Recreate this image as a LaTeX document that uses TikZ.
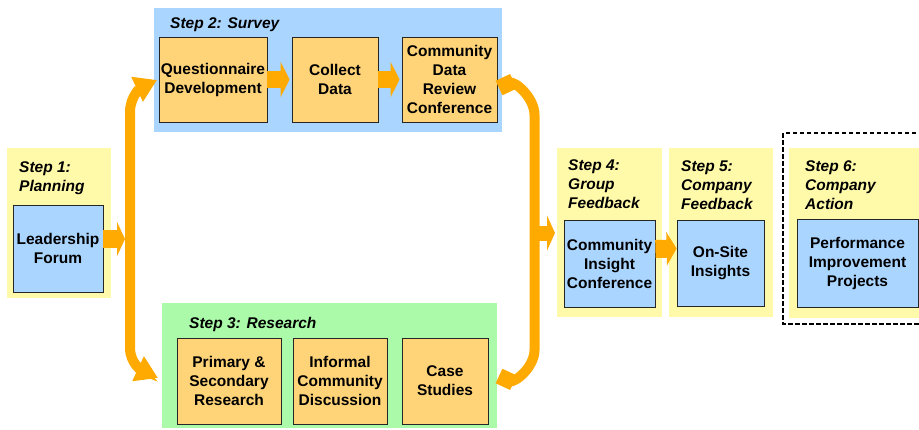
\documentclass[tikz,border=0pt]{standalone}
\usepackage{fontspec}
\setmainfont{Liberation Sans}
\usetikzlibrary{arrows.meta,calc}
\definecolor{panelyellow}{RGB}{255,250,170}
\definecolor{panelblue}{RGB}{170,213,255}
\definecolor{panelgreen}{RGB}{170,250,170}
\definecolor{boxorange}{RGB}{255,212,121}
\definecolor{arroworange}{RGB}{255,170,0}
\newcommand{\stepfont}{\fontsize{15.5pt}{19pt}\selectfont\bfseries}
\begin{document}
\begin{tikzpicture}[x=1pt, y=1pt,
    panel/.style={inner sep=0pt, outer sep=0pt},
    steplabel/.style={anchor=north west, inner sep=0pt, align=left, font=\stepfont\itshape},
    box/.style={draw=black!85, line width=0.8pt, inner sep=1pt, align=center, font=\stepfont},
    blk/.style={arroworange, line width=17pt, -{Triangle[width=35pt,length=9pt]}},
    bracket/.style={arroworange, line width=10pt}]
        \useasboundingbox (0,0) rectangle (919,-429);
        \clip (0,0) rectangle (919,-429);

        % Panels of the six steps
        \node[panel, fill=panelyellow, minimum width=104pt, minimum height=150pt] (p1) at (59,-223) {};
        \node[panel, fill=panelblue, minimum width=348pt, minimum height=124pt] (p2) at (328,-70) {};
        \node[panel, fill=panelgreen, minimum width=335pt, minimum height=125pt] (p3) at (329.5,-365.5) {};
        \node[panel, fill=panelyellow, minimum width=105pt, minimum height=169pt] (p4) at (609.5,-232.5) {};
        \node[panel, fill=panelyellow, minimum width=104pt, minimum height=169pt] (p5) at (721,-232.5) {};
        \node[panel, fill=panelyellow, minimum width=140pt, minimum height=170pt] (p6) at (859,-233) {};
        \draw[black, line width=1.8pt, dash pattern=on 4.5pt off 2.5pt] (783,-133) rectangle (935,-324);

        % Step titles
        \node[steplabel] (s1) at (19,-161) {Step 1:\\Planning};
        \node[steplabel] (s2) at (170,-17) {Step 2: Survey};
        \node[steplabel] (s3) at (189,-317) {Step 3: Research};
        \node[steplabel] (s4) at (568,-159) {Step 4:\\Group\\Feedback};
        \node[steplabel] (s5) at (681,-160) {Step 5:\\Company\\Feedback};
        \node[steplabel] (s6) at (805,-160) {Step 6:\\Company\\Action};

        % Boxes
        \node[box, fill=panelblue, minimum width=90pt, minimum height=87pt] (lf) at (58,-248.5) {Leadership\\Forum};
        \node[box, fill=boxorange, minimum width=108pt, minimum height=85pt] (qd) at (213,-79.5) {Questionnaire\\Development};
        \node[box, fill=boxorange, minimum width=86pt, minimum height=85pt] (cd) at (335,-79.5) {Collect\\Data};
        \node[box, fill=boxorange, minimum width=95pt, minimum height=85pt] (cdr) at (449.5,-79.5) {Community\\Data\\Review\\Conference};
        \node[box, fill=boxorange, minimum width=104pt, minimum height=86pt] (psr) at (229,-381) {Primary \&\\Secondary\\Research};
        \node[box, fill=boxorange, minimum width=94pt, minimum height=86pt] (icd) at (340,-381) {Informal\\Community\\Discussion};
        \node[box, fill=boxorange, minimum width=86pt, minimum height=86pt] (cs) at (445,-381) {Case\\Studies};
        \node[box, fill=panelblue, minimum width=91pt, minimum height=87pt] (cic) at (609.5,-263.5) {Community\\Insight\\Conference};
        \node[box, fill=panelblue, minimum width=87pt, minimum height=86pt] (osi) at (720.5,-263) {On-Site\\Insights};
        \node[box, fill=panelblue, minimum width=121pt, minimum height=88pt] (pip) at (857.5,-263) {Performance\\Improvement\\Projects};

        % Free ends of the brackets
        \coordinate (lbar) at (125,-239);
        \coordinate (rbar) at (534.5,-233);
        \coordinate (qtip) at (157,-80);
        \coordinate (ptip) at (158,-378);
        \coordinate (ctip) at (499,-88);
        \coordinate (stip) at (499,-376);

        % Left bracket
        \draw[bracket, {Triangle[width=26pt,length=22pt]}-{Triangle[width=26pt,length=22pt]}]
            (qtip) to[out=205,in=90] (130,-112) -- (130,-348) to[out=-90,in=155] (ptip);
        % Right bracket
        \draw[bracket, {Square[width=16pt,length=16pt]}-{Square[width=16pt,length=16pt]}]
            (ctip) to[out=25,in=90] (534.5,-115) -- (534.5,-350) to[out=-90,in=-25] (stip);

        % Block arrows
        \draw[blk, line width=18pt, -{Triangle[width=34pt,length=8pt]}] (lf.east |- lbar) -- (lbar);
        \foreach \a/\b in {qd/cd, cd/cdr}
            \draw[blk] (\a.east) -- ([xshift=-2pt]\b.west);
        \draw[blk, line width=15pt, -{Triangle[width=35pt,length=8pt]}] (rbar) -- ([xshift=-2pt]rbar -| p4.west);
        \draw[blk, line width=18pt, -{Triangle[width=33pt,length=10pt]}] ([yshift=14.5pt]cic.east) -- ([yshift=14.5pt]osi.west);

\end{tikzpicture}
\end{document}
